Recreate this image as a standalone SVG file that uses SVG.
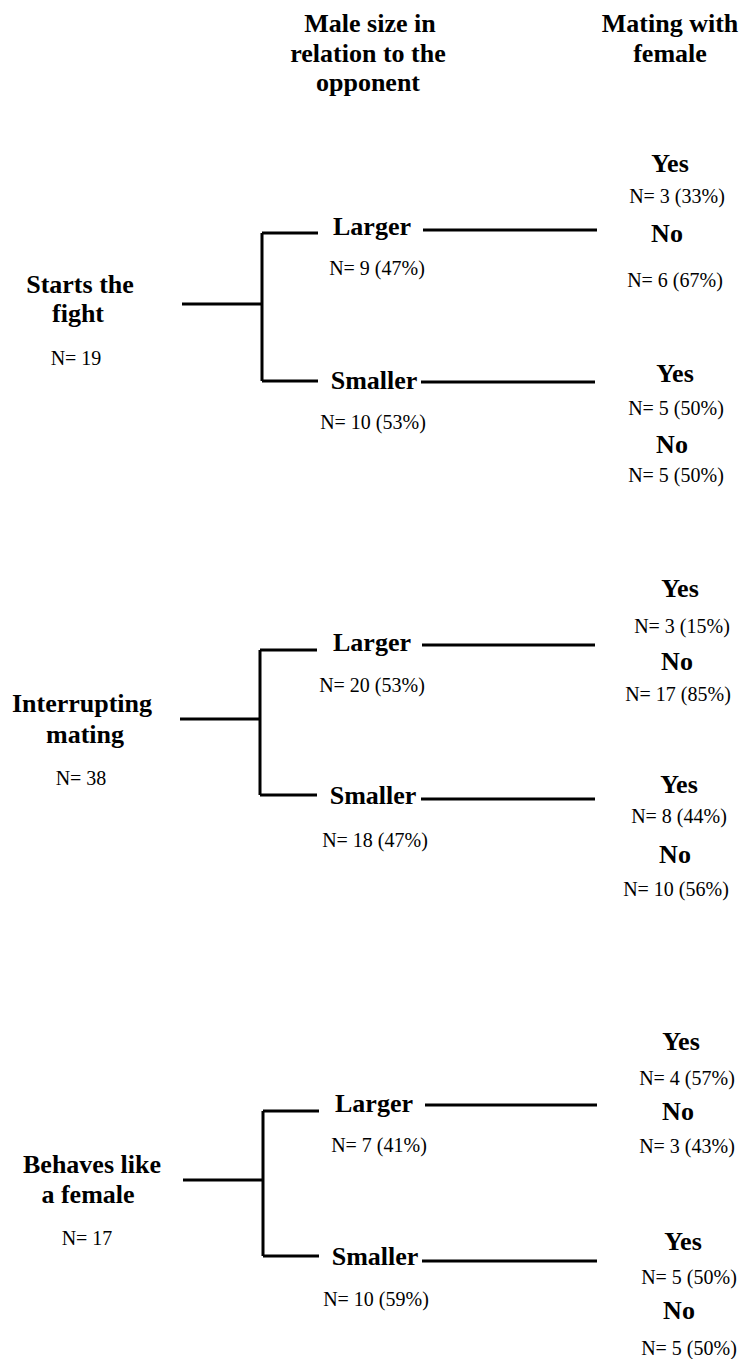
<svg xmlns="http://www.w3.org/2000/svg" width="743" height="1359" viewBox="0 0 743 1359">
<style>
.b{font-family:'Liberation Serif','DejaVu Serif',serif;font-weight:700;font-size:26px;fill:#000;text-anchor:middle}
.r{font-family:'Liberation Serif','DejaVu Serif',serif;font-weight:400;font-size:20px;fill:#000;text-anchor:middle}
.ln{stroke:#000;stroke-width:3;fill:none;stroke-linecap:butt}
</style>
<rect width="743" height="1359" fill="#fff"/>
<g id="header">
<text class="b" x="370" y="32">Male size in</text>
<text class="b" x="368" y="62">relation to the</text>
<text class="b" x="368" y="91">opponent</text>
<text class="b" x="670" y="32">Mating with</text>
<text class="b" x="670" y="62">female</text>
</g>
<g id="connectors">
<path class="ln" d="M182 304H262M262 233V381M262 233H318M262 381H318M423 230H597M421 382H595"/>
<path class="ln" d="M180 719H260M260 650V795M260 650H317M260 795H317M422 645H595M421 799H595"/>
<path class="ln" d="M183 1180H263M263 1111V1256M263 1111H319M263 1256H319M425 1105H597M422 1261H597"/>
</g>
<g id="n-starts">
<text class="b" x="80" y="293">Starts the</text>
<text class="b" x="78" y="322">fight</text>
<text class="r" x="76" y="365">N= 19</text>
</g>
<g id="n-starts-larger">
<text class="b" x="372" y="235">Larger</text>
<text class="r" x="377" y="275">N= 9 (47%)</text>
</g>
<g id="n-starts-smaller">
<text class="b" x="374" y="389">Smaller</text>
<text class="r" x="373" y="429">N= 10 (53%)</text>
</g>
<g id="n-starts-larger-out">
<text class="b" x="670" y="172">Yes</text>
<text class="r" x="677" y="203">N= 3 (33%)</text>
<text class="b" x="667" y="242">No</text>
<text class="r" x="675" y="287">N= 6 (67%)</text>
</g>
<g id="n-starts-smaller-out">
<text class="b" x="675" y="382">Yes</text>
<text class="r" x="676" y="415">N= 5 (50%)</text>
<text class="b" x="672" y="453">No</text>
<text class="r" x="676" y="482">N= 5 (50%)</text>
</g>
<g id="n-interrupt">
<text class="b" x="82" y="712">Interrupting</text>
<text class="b" x="85" y="743">mating</text>
<text class="r" x="81" y="785">N= 38</text>
</g>
<g id="n-interrupt-larger">
<text class="b" x="372" y="651">Larger</text>
<text class="r" x="372" y="692">N= 20 (53%)</text>
</g>
<g id="n-interrupt-smaller">
<text class="b" x="373" y="804">Smaller</text>
<text class="r" x="375" y="847">N= 18 (47%)</text>
</g>
<g id="n-interrupt-larger-out">
<text class="b" x="680" y="597">Yes</text>
<text class="r" x="682" y="633">N= 3 (15%)</text>
<text class="b" x="677" y="670">No</text>
<text class="r" x="678" y="701">N= 17 (85%)</text>
</g>
<g id="n-interrupt-smaller-out">
<text class="b" x="679" y="793">Yes</text>
<text class="r" x="679" y="823">N= 8 (44%)</text>
<text class="b" x="675" y="863">No</text>
<text class="r" x="676" y="896">N= 10 (56%)</text>
</g>
<g id="n-behaves">
<text class="b" x="92" y="1173">Behaves like</text>
<text class="b" x="88" y="1203">a female</text>
<text class="r" x="87" y="1245">N= 17</text>
</g>
<g id="n-behaves-larger">
<text class="b" x="374" y="1112">Larger</text>
<text class="r" x="379" y="1152">N= 7 (41%)</text>
</g>
<g id="n-behaves-smaller">
<text class="b" x="375" y="1265">Smaller</text>
<text class="r" x="376" y="1306">N= 10 (59%)</text>
</g>
<g id="n-behaves-larger-out">
<text class="b" x="681" y="1050">Yes</text>
<text class="r" x="687" y="1085">N= 4 (57%)</text>
<text class="b" x="678" y="1120">No</text>
<text class="r" x="687" y="1153">N= 3 (43%)</text>
</g>
<g id="n-behaves-smaller-out">
<text class="b" x="683" y="1250">Yes</text>
<text class="r" x="689" y="1284">N= 5 (50%)</text>
<text class="b" x="679" y="1319">No</text>
<text class="r" x="689" y="1355">N= 5 (50%)</text>
</g>
</svg>
